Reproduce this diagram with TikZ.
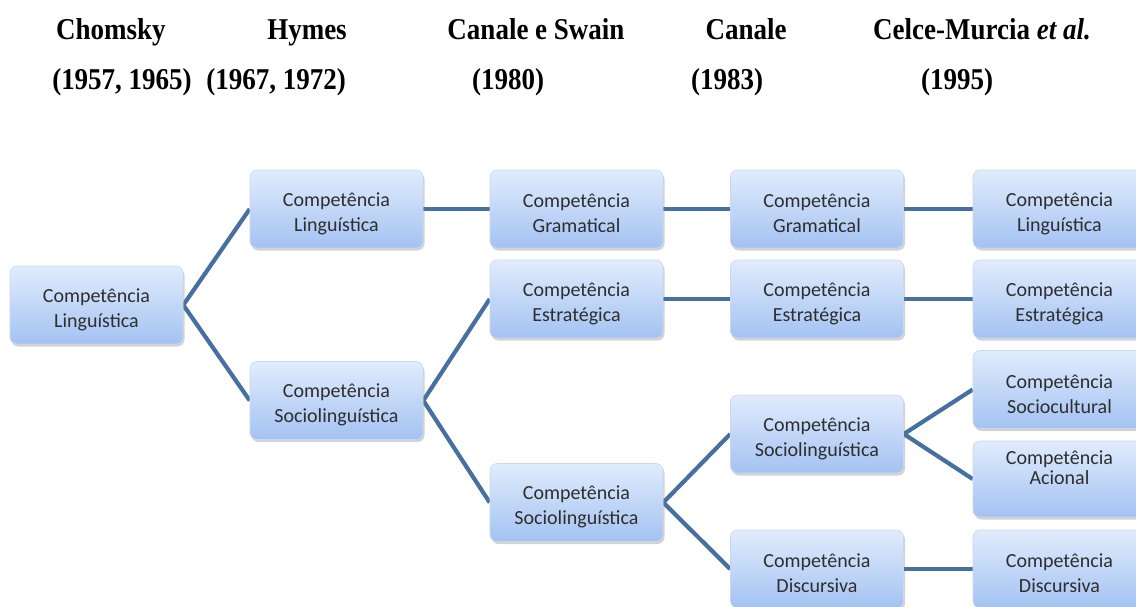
\documentclass[tikz,border=0pt]{standalone}
\usepackage{fontspec}
\usepackage{graphicx}
\setmainfont{Liberation Serif}
\newfontfamily\boxfont{Carlito}
\usetikzlibrary{shadows}
\definecolor{linec}{HTML}{45709F}
\definecolor{boxtop}{HTML}{E1ECFC}
\definecolor{boxbot}{HTML}{A3C2F2}
\definecolor{boxedge}{HTML}{C9D8EE}
\definecolor{txt}{HTML}{2E2E2E}
\pgfdeclarelayer{bg}
\pgfsetlayers{bg,main}
\newcommand\hdtext[1]{\scalebox{1}[1.12]{#1}}
\newcommand\twolines[2]{\rule{0pt}{23pt}#1\\#2}
\begin{document}
\begin{tikzpicture}[x=1pt,y=-1pt,
  box/.style={rectangle, rounded corners=7pt, minimum width=173pt, minimum height=78pt,
    top color=boxtop, bottom color=boxbot, draw=boxedge, line width=0.6pt,
    drop shadow={opacity=0.35, shadow xshift=1.5pt, shadow yshift=-2.5pt},
    font=\boxfont\fontsize{20}{25}\selectfont, text=txt, align=center, inner sep=0pt},
  boxtext/.style={font=\boxfont\fontsize{20}{20}\selectfont, text=txt, align=center, inner sep=0pt},
  conn/.style={draw=linec, line width=4.2pt},
  head/.style={font=\fontsize{27}{30}\selectfont\bfseries, anchor=base, inner sep=0pt}]
\useasboundingbox (0,0) rectangle (1136,606);
\clip (0,0) rectangle (1136,606);

% headers
\node[head] (h1a) at (111,39) {\hdtext{Chomsky}};
\node[head] (h1b) at (122,89) {\hdtext{(1957, 1965)}};
\node[head] (h2a) at (307,39) {\hdtext{Hymes}};
\node[head] (h2b) at (276,89) {\hdtext{(1967, 1972)}};
\node[head] (h3a) at (536,39) {\hdtext{Canale e Swain}};
\node[head] (h3b) at (508,89) {\hdtext{(1980)}};
\node[head] (h4a) at (746,39) {\hdtext{Canale}};
\node[head] (h4b) at (727,89) {\hdtext{(1983)}};
\node[head] (h5a) at (982,39) {\hdtext{Celce-Murcia \textit{et al.}}};
\node[head] (h5b) at (957,89) {\hdtext{(1995)}};

% boxes
\node[box] (root) at (96.5,305) {\twolines{Competência}{Linguística}};
\node[box] (hl) at (336.5,209) {\twolines{Competência}{Linguística}};
\node[box] (hs) at (336.5,400.5) {\twolines{Competência}{Sociolinguística}};
\node[box] (sg) at (576.5,209) {\twolines{Competência}{Gramatical}};
\node[box] (se) at (576.5,299) {\twolines{Competência}{Estratégica}};
\node[box] (ss) at (576.5,502.5) {\twolines{Competência}{Sociolinguística}};
\node[box] (cg) at (817,209) {\twolines{Competência}{Gramatical}};
\node[box] (ce) at (817,299) {\twolines{Competência}{Estratégica}};
\node[box] (cs) at (817,434) {\twolines{Competência}{Sociolinguística}};
\node[box] (cd) at (817,569) {\twolines{Competência}{Discursiva}};
\node[box] (ml) at (1059.5,209) {\twolines{Competência}{Linguística}};
\node[box] (me) at (1059.5,299) {\twolines{Competência}{Estratégica}};
\node[box] (msc) at (1059.5,389.5) {\twolines{Competência}{Sociocultural}};
\node[box, minimum height=76pt] (ma) at (1059.5,479) {};
\node[boxtext, anchor=north] (mat) at (1059.5,451) {Competência\\Acional};
\node[box] (md) at (1059.5,569) {\twolines{Competência}{Discursiva}};

% connectors
\begin{pgfonlayer}{bg}
\draw[conn] (root.east) -- (hl.west);
\draw[conn] (root.east) -- (hs.west);
\draw[conn] (hl.east) -- (sg.west);
\draw[conn] (hs.east) -- (se.west);
\draw[conn] (hs.east) -- (ss.west);
\draw[conn] (sg.east) -- (cg.west);
\draw[conn] (se.east) -- (ce.west);
\draw[conn] (ss.east) -- (cs.west);
\draw[conn] (ss.east) -- (cd.west);
\draw[conn] (cg.east) -- (ml.west);
\draw[conn] (ce.east) -- (me.west);
\draw[conn] (cs.east) -- (msc.west);
\draw[conn] (cs.east) -- (ma.west);
\draw[conn] (cd.east) -- (md.west);
\end{pgfonlayer}
\end{tikzpicture}
\end{document}
